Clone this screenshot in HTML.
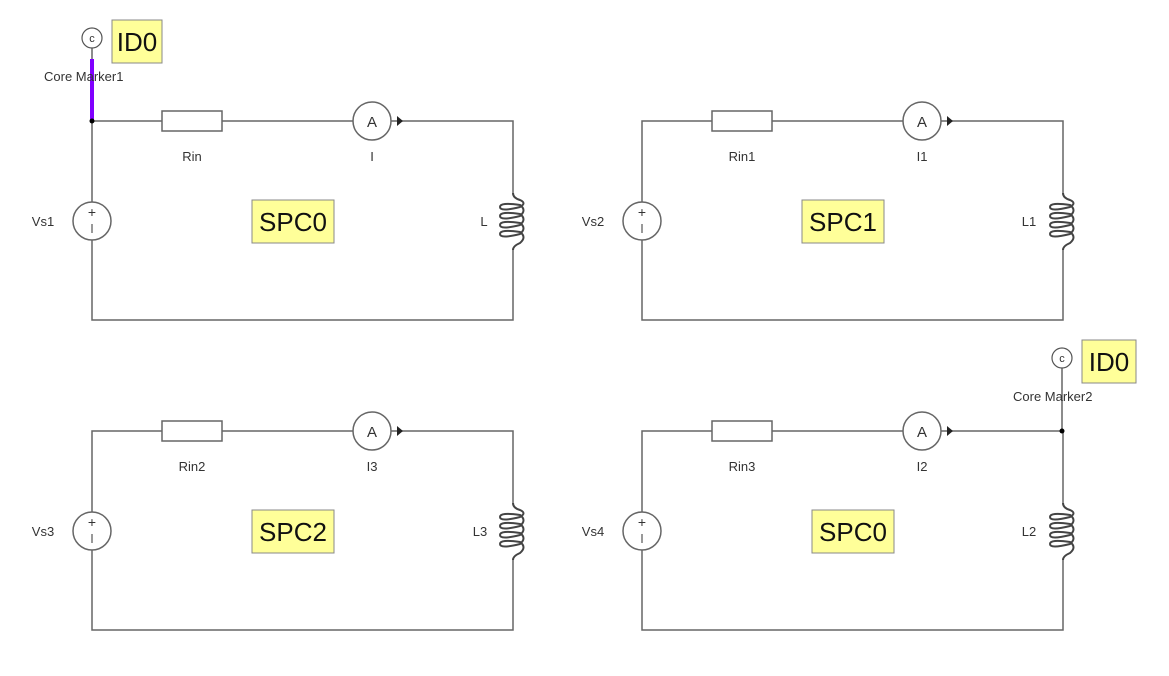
<!DOCTYPE html>
<html><head><meta charset="utf-8"><style>
html,body{margin:0;padding:0;background:#fff;}
svg{display:block;font-family:"Liberation Sans",Arial,sans-serif;}
</style></head><body>
<svg width="1169" height="676" viewBox="0 0 1169 676" xmlns="http://www.w3.org/2000/svg">
<defs>
<g id="ckt">
  <g stroke="#666" stroke-width="1.5" fill="none">
    <path d="M92 202 V121 H162 M222 121 H353 M391 121 H513 V193"/>
    <path d="M92 240 V320 H513 V250"/>
    <rect x="162" y="111" width="60" height="20" fill="#fff"/>
    <circle cx="372" cy="121" r="19" fill="#fff"/>
    <circle cx="92" cy="221" r="19" fill="#fff"/>
    <path d="M513 193 Q513 198 520 200 Q527 203 520 207 Q500 212 500 207 Q500 202 520 205 Q527 210 520 216 Q500 221 500 216 Q500 211 520 214 Q527 219 520 225 Q500 230 500 225 Q500 220 520 223 Q527 228 520 234 Q500 239 500 234 Q500 229 520 232 Q527 237 520 243 Q513 246 513 250" stroke="#444" stroke-width="2"/>
  </g>
  <path d="M397 116 L403 121 L397 126 Z" fill="#222"/>
  <text x="372" y="127" font-size="15" text-anchor="middle" fill="#333">A</text>
  <text x="92" y="217" font-size="14" text-anchor="middle" fill="#333">+</text>
  <line x1="92" y1="224" x2="92" y2="233" stroke="#555" stroke-width="1.2"/>
</g>
</defs>
<g font-size="13" fill="#333">
<use href="#ckt"/>
<use href="#ckt" transform="translate(550,0)"/>
<use href="#ckt" transform="translate(0,310)"/>
<use href="#ckt" transform="translate(550,310)"/>

<!-- labels -->
<text x="192" y="161" text-anchor="middle">Rin</text>
<text x="372" y="161" text-anchor="middle">I</text>
<text x="43" y="226" text-anchor="middle">Vs1</text>
<text x="484" y="226" text-anchor="middle">L</text>

<text x="742" y="161" text-anchor="middle">Rin1</text>
<text x="922" y="161" text-anchor="middle">I1</text>
<text x="593" y="226" text-anchor="middle">Vs2</text>
<text x="1029" y="226" text-anchor="middle">L1</text>

<text x="192" y="471" text-anchor="middle">Rin2</text>
<text x="372" y="471" text-anchor="middle">I3</text>
<text x="43" y="536" text-anchor="middle">Vs3</text>
<text x="480" y="536" text-anchor="middle">L3</text>

<text x="742" y="471" text-anchor="middle">Rin3</text>
<text x="922" y="471" text-anchor="middle">I2</text>
<text x="593" y="536" text-anchor="middle">Vs4</text>
<text x="1029" y="536" text-anchor="middle">L2</text>
</g>

<!-- SPC boxes -->
<g stroke="#888" stroke-width="1" fill="#ffff99">
<rect x="252" y="200" width="82" height="43"/>
<rect x="802" y="200" width="82" height="43"/>
<rect x="252" y="510" width="82" height="43"/>
<rect x="812" y="510" width="82" height="43"/>
<rect x="112" y="20" width="50" height="43"/>
<rect x="1082" y="340" width="54" height="43"/>
</g>
<g font-size="26" fill="#111" text-anchor="middle">
<text x="293" y="231">SPC0</text>
<text x="843" y="231">SPC1</text>
<text x="293" y="541">SPC2</text>
<text x="853" y="541">SPC0</text>
<text x="137" y="51">ID0</text>
<text x="1109" y="371">ID0</text>
</g>

<!-- core marker 1 -->
<line x1="92" y1="48" x2="92" y2="59" stroke="#666" stroke-width="1.5"/>
<line x1="92" y1="59" x2="92" y2="121" stroke="#8000ff" stroke-width="4"/>
<circle cx="92" cy="38" r="10" fill="#fff" stroke="#555" stroke-width="1.2"/>
<text x="92" y="42" font-size="11" text-anchor="middle" fill="#333">c</text>
<text x="44" y="81" font-size="13" fill="#333">Core Marker1</text>
<circle cx="92" cy="121" r="2.5" fill="#000"/>

<!-- core marker 2 -->
<line x1="1062" y1="368" x2="1062" y2="431" stroke="#666" stroke-width="1.5"/>
<circle cx="1062" cy="358" r="10" fill="#fff" stroke="#555" stroke-width="1.2"/>
<text x="1062" y="362" font-size="11" text-anchor="middle" fill="#333">c</text>
<text x="1013" y="401" font-size="13" fill="#333">Core Marker2</text>
<circle cx="1062" cy="431" r="2.5" fill="#000"/>
</svg>
</body></html>
